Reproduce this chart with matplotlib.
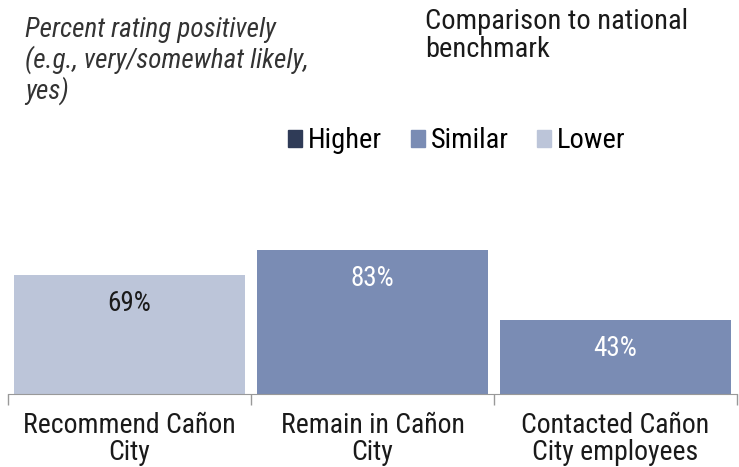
import matplotlib.pyplot as plt
from matplotlib.patches import Patch

plt.rcParams['font.family'] = ['Roboto Condensed', 'DejaVu Sans']

categories = ['Recommend Cañon\nCity', 'Remain in Cañon\nCity', 'Contacted Cañon\nCity employees']
values = [69, 83, 43]
ratings = ['Lower', 'Similar', 'Similar']
legend_labels = ['Higher', 'Similar', 'Lower']

colors = {'Higher': '#2f3b57', 'Similar': '#7a8cb4', 'Lower': '#bcc5d9'}
label_colors = {'Higher': 'white', 'Similar': 'white', 'Lower': '#1a1a1a'}

fig = plt.figure(figsize=(7.39, 4.67), dpi=100)
ax = fig.add_axes([8/739, 73/467, 729/739, 173/467])

x = range(len(categories))
ax.bar(x, values, width=0.95, color=[colors[r] for r in ratings])
for i, v in enumerate(values):
    ax.text(i, v - 16.5, f'{v}%', ha='center', va='center', fontsize=19.5,
            color=label_colors[ratings[i]])

ax.set_xlim(-0.5, 2.5)
ax.set_ylim(0, 100)
ax.set_yticks([])
for s in ['top', 'right', 'left']:
    ax.spines[s].set_visible(False)
ax.spines['bottom'].set_color('#999999')
ax.set_xticks([-0.5, 0.5, 1.5, 2.5])
ax.set_xticklabels([])
ax.tick_params(axis='x', direction='out', length=8, color='#999999', width=1)
for i, c in enumerate(categories):
    ax.text(i, -10.5, c, ha='center', va='top', fontsize=20, color='#1a1a1a',
            linespacing=1.0)

fig.text(25/739, 1 - 17/467, 'Percent rating positively\n(e.g., very/somewhat likely,\nyes)',
         style='italic', fontsize=19.5, color='#333333', va='top', ha='left', linespacing=1.1)
fig.text(425/739, 1 - 8/467, 'Comparison to national\nbenchmark',
         fontsize=20.5, color='#1a1a1a', va='top', ha='left', linespacing=1.05)

handles = [Patch(color=colors[k]) for k in legend_labels]
fig.legend(handles, legend_labels, loc='center',
           bbox_to_anchor=(457/739, 1 - 141/467), ncol=3, frameon=False,
           fontsize=20.5, handlelength=0.5, handleheight=0.5, handletextpad=0.2,
           columnspacing=1.0)

fig.savefig('out.png', dpi=100)
